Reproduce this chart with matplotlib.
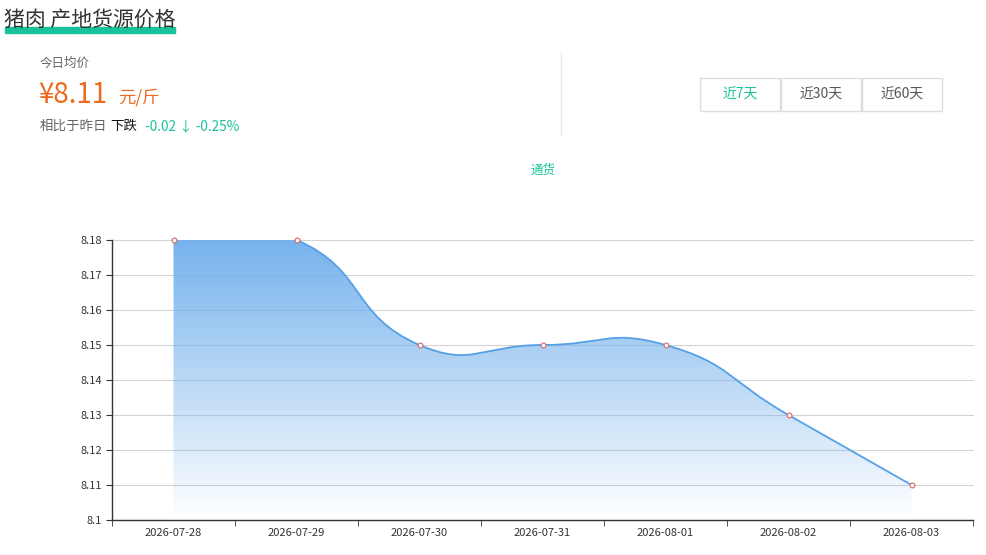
"""
Pork origin price card: header summary + 7-day smoothed area line chart.
"""
import numpy as np
import matplotlib
matplotlib.use("Agg")
import matplotlib.pyplot as plt
from matplotlib.path import Path
from matplotlib.patches import PathPatch, Rectangle
from matplotlib.lines import Line2D

plt.rcParams["font.family"] = ["Noto Sans CJK SC", "DejaVu Sans"]

# ---- data -------------------------------------------------------------
dates = ["2026-07-28", "2026-07-29", "2026-07-30", "2026-07-31",
         "2026-08-01", "2026-08-02", "2026-08-03"]
prices = [8.18, 8.18, 8.15, 8.15, 8.15, 8.13, 8.11]
y_ticks = [8.10, 8.11, 8.12, 8.13, 8.14, 8.15, 8.16, 8.17, 8.18]
y_labels = ["8.1", "8.11", "8.12", "8.13", "8.14", "8.15", "8.16", "8.17", "8.18"]
ranges = ["近7天", "近30天", "近60天"]
series_name = "通货"
title = "猪肉 产地货源价格"
today_price = "¥8.11"
unit = "元/斤"
trend_word = "下跌"
change_text = "-0.02 ↓ -0.25%"

W, H = 986, 555
GREEN = "#19c29b"
ORANGE = "#ee6a1e"
LINE = "#55a0e6"
GREY = "#666666"

SMOOTH = 0.5
PX_X = 123.0      # pixels per category
PX_Y = 3500.0     # pixels per price unit


def fx(x):
    return x / W


def fy(y):
    return 1 - y / H


def smooth_path(xs, ys):
    """Bezier path through the points, echarts-style smoothing in pixel space."""
    px = np.asarray(xs, float) * PX_X
    py = np.asarray(ys, float) * PX_Y
    n = len(px)
    cps = []
    for i in range(n):
        if i == 0 or i == n - 1:
            cps.append((px[i], py[i]))
            continue
        vx = (px[i + 1] - px[i - 1]) * SMOOTH
        vy = (py[i + 1] - py[i - 1]) * SMOOTH
        d0 = np.hypot(px[i] - px[i - 1], py[i] - py[i - 1])
        d1 = np.hypot(px[i + 1] - px[i], py[i + 1] - py[i])
        s = d0 + d1
        d0, d1 = d0 / s, d1 / s
        cps.append((px[i] - vx * d0, py[i] - vy * d0))
        cps.append((px[i] + vx * d1, py[i] + vy * d1))
    verts = [(px[0], py[0])]
    codes = [Path.MOVETO]
    for i in range(n - 1):
        verts += [cps[2 * i], cps[2 * i + 1], (px[i + 1], py[i + 1])]
        codes += [Path.CURVE4] * 3
    verts = [(x / PX_X, y / PX_Y) for x, y in verts]
    return verts, codes


fig = plt.figure(figsize=(W / 100, H / 100), dpi=100)

# ---- header -----------------------------------------------------------
fig.patches.append(Rectangle((fx(5), fy(33)), fx(175) - fx(5), 6 / H,
                             transform=fig.transFigure, color=GREEN, zorder=0))
fig.text(fx(4), fy(20), title, fontsize=15, color="#333333", va="center", zorder=2)

fig.text(fx(40), fy(63), "今日均价", fontsize=9, color=GREY, va="center")
fig.text(fx(38), fy(95), today_price, fontsize=20, color=ORANGE, va="center")
fig.text(fx(118), fy(98), unit, fontsize=12.5, color=ORANGE, va="center")
fig.text(fx(40), fy(126), "相比于昨日", fontsize=9.7, color=GREY, va="center")
fig.text(fx(110), fy(126), trend_word, fontsize=9.7, color="#111111", va="center")
fig.text(fx(145), fy(126), change_text, fontsize=9.8, color=GREEN, va="center")

fig.add_artist(Line2D([fx(561), fx(561)], [fy(53), fy(135)], color="#e6e6e6", lw=1))

for i, label in enumerate(ranges):
    x0 = 700 + i * 81
    fig.patches.append(Rectangle((fx(x0), fy(111)), fx(80), 33 / H,
                                 transform=fig.transFigure, facecolor="white",
                                 edgecolor="#dddddd", lw=1))
    fig.text(fx(x0 + 40), fy(95), label, fontsize=10,
             color=GREEN if i == 0 else "#555555", ha="center", va="center")

fig.text(fx(543), fy(170), series_name, fontsize=9, color=GREEN, ha="center", va="center")

# ---- chart ------------------------------------------------------------
ax = fig.add_axes([fx(112), fy(520), (973 - 112) / W, (520 - 240) / H])
xs = np.arange(len(dates))
ax.set_xlim(-0.5, len(dates) - 0.5)
ax.set_ylim(y_ticks[0], y_ticks[-1])

verts, codes = smooth_path(xs, prices)
line_path = Path(verts, codes)
area_path = Path(verts + [(xs[-1], y_ticks[0]), (xs[0], y_ticks[0]), (xs[0], y_ticks[0])],
                 codes + [Path.LINETO, Path.LINETO, Path.CLOSEPOLY])
area_patch = PathPatch(area_path, facecolor="none", edgecolor="none")
ax.add_patch(area_patch)

top = np.array([0.46, 0.70, 0.93])
grad = np.zeros((256, 1, 4))
grad[:, 0, :3] = top
grad[:, 0, 3] = np.linspace(1.0, 0.0, 256)
im = ax.imshow(grad, extent=(-0.5, len(dates) - 0.5, y_ticks[0], y_ticks[-1]),
               aspect="auto", origin="upper", zorder=2)
im.set_clip_path(area_patch)

ax.add_patch(PathPatch(line_path, facecolor="none", edgecolor=LINE, lw=1.3, zorder=3))
ax.plot(xs, prices, "o", ms=3.4, mfc="white", mec="#e07070", mew=0.9,
        zorder=4, clip_on=False)

ax.set_yticks(y_ticks)
ax.set_yticklabels(y_labels)
ax.set_xticks(xs)
ax.set_xticklabels(dates)
ax.set_xticks(np.arange(len(dates) + 1) - 0.5, minor=True)
ax.tick_params(axis="x", which="major", length=0, pad=6, labelsize=8, labelcolor="#333333")
ax.tick_params(axis="x", which="minor", length=4, color="#333333")
ax.tick_params(axis="y", length=4, color="#333333", labelsize=8, labelcolor="#333333", pad=3)

ax.grid(axis="y", color="#d3d3d3", lw=0.8)
for gl in ax.get_ygridlines():
    gl.set_clip_on(False)
ax.set_axisbelow(True)
for side in ("top", "right"):
    ax.spines[side].set_visible(False)
for side in ("left", "bottom"):
    ax.spines[side].set_color("#333333")
    ax.spines[side].set_linewidth(1)

fig.savefig("out.png", dpi=100)
